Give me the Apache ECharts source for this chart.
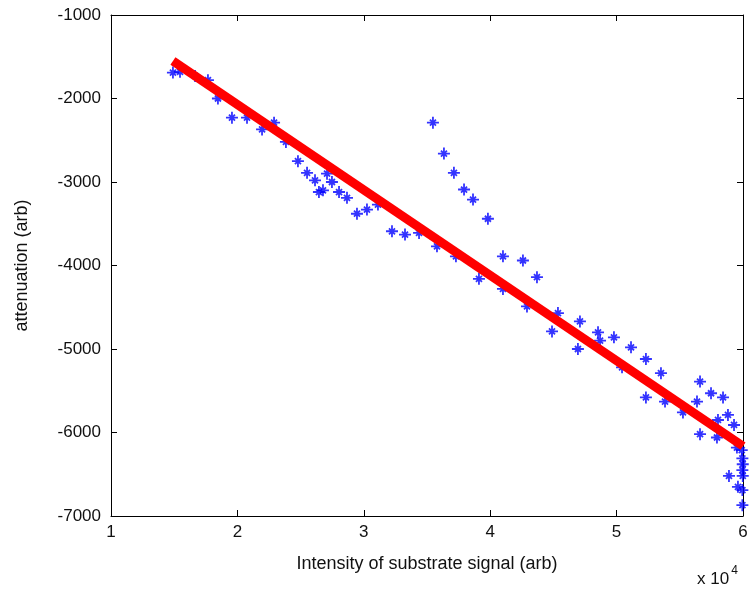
<!DOCTYPE html>
<html>
<head>
<meta charset="utf-8">
<script src="https://cdn.jsdelivr.net/npm/echarts@6/dist/echarts.min.js"></script>
<style>
html,body{margin:0;padding:0;background:#fff;}
#c{width:752px;height:590px;}
</style>
</head>
<body>
<div id="c"></div>
<script>
// x values are raw intensity (axis shows them in units of 10^4)
const measured = [
  [14900,-1690],[15460,-1680],[16650,-1730],[17670,-1780],[18460,-2000],[19570,-2230],
  [20760,-2230],[21950,-2370],[22900,-2290],[23840,-2520],[24790,-2750],[25510,-2890],
  [26140,-2980],[26450,-3120],[26770,-3100],[27090,-2900],[27480,-3000],[28040,-3120],
  [28670,-3190],[29460,-3380],[30250,-3330],[31120,-3270],[32230,-3590],[33260,-3630],
  [34370,-3610],[35790,-3770],[37290,-3890],[39110,-4160],[41010,-4280],
  [35470,-2290],[36340,-2660],[37130,-2890],[37930,-3090],[38640,-3210],[39820,-3440],
  [41010,-3890],[42590,-3940],[43700,-4140],
  [42910,-4490],[45360,-4570],[44890,-4790],[47100,-4670],[46940,-5000],[48530,-4800],
  [48690,-4900],[49790,-4860],[51140,-4980],[50430,-5220],[52320,-5120],[53510,-5290],
  [52320,-5580],[53830,-5630],[55250,-5760],[56360,-5630],[56600,-5390],[57470,-5530],
  [58420,-5580],[58810,-5790],[59290,-5910],[58020,-5850],[56600,-6020],[57940,-6060],
  [59520,-6180],[58890,-6520],[59600,-6650],[59950,-6870],[59950,-6310],[59980,-6380],
  [59950,-6450],[59980,-6520],[59950,-6690],[59900,-6210]
];
const fitLine = [[14900,-1550],[60000,-6163]];
const xTicks = [1,2,3,4,5,6];
const yTicks = [-1000,-2000,-3000,-4000,-5000,-6000,-7000];

const font = 'Liberation Sans, Arial, sans-serif';
const axisColor = '#000';
const textColor = '#111';
const star = 'path://M0,-10L0,10M-10,0L10,0M-5,-5L5,5M-5,5L5,-5';

const chart = echarts.init(document.getElementById('c'), null, {renderer:'canvas'});
const baseX = {
  type:'value', min:10000, max:60000, interval:10000,
  axisLine:{show:true, onZero:false, lineStyle:{color:axisColor, width:1}},
  axisTick:{show:true, inside:true, length:6, lineStyle:{color:axisColor}},
  splitLine:{show:false}
};
const baseY = {
  type:'value', min:-7000, max:-1000, interval:1000,
  axisLine:{show:true, onZero:false, lineStyle:{color:axisColor, width:1}},
  axisTick:{show:true, inside:true, length:6, lineStyle:{color:axisColor}},
  splitLine:{show:false}
};
chart.setOption({
  animation:false,
  backgroundColor:'#fff',
  grid:{left:111, right:9, top:15, bottom:74},
  xAxis:[
    Object.assign({}, baseX, {
      position:'bottom',
      name:'Intensity of substrate signal (arb)', nameLocation:'middle', nameGap:39,
      nameTextStyle:{fontFamily:font, fontSize:18, color:textColor},
      axisLabel:{fontFamily:font, fontSize:17, color:textColor, margin:8,
        formatter: v => { const t = v/10000; return xTicks.includes(t) ? String(t) : ''; }}
    }),
    Object.assign({}, baseX, {position:'top', axisLabel:{show:false}})
  ],
  yAxis:[
    Object.assign({}, baseY, {
      position:'left',
      name:'attenuation (arb)', nameLocation:'middle', nameGap:80, nameRotate:90,
      nameTextStyle:{fontFamily:font, fontSize:18, color:textColor},
      axisLabel:{fontFamily:font, fontSize:17, color:textColor, margin:10,
        formatter: v => yTicks.includes(v) ? String(v) : ''}
    }),
    Object.assign({}, baseY, {position:'right', axisLabel:{show:false}})
  ],
  series:[
    {
      type:'scatter', data:measured, symbol:star, symbolSize:12, symbolKeepAspect:true,
      itemStyle:{color:'rgba(0,0,0,0)', borderColor:'#0000ff', borderWidth:1.8},
      clip:true, z:2
    },
    {
      type:'line', data:fitLine, showSymbol:false, symbol:'none',
      lineStyle:{color:'#ff0000', width:9}, z:3, clip:true
    }
  ],
  graphic:[{
    type:'text', left:697, top:565,
    style:{
      text:'{a|x 10}{b|4}',
      rich:{
        a:{fontFamily:font, fontSize:17, fill:textColor, padding:[8,0,0,0]},
        b:{fontFamily:font, fontSize:12, fill:textColor, padding:[0,0,8,2]}
      }
    }
  }]
});
</script>
</body>
</html>
